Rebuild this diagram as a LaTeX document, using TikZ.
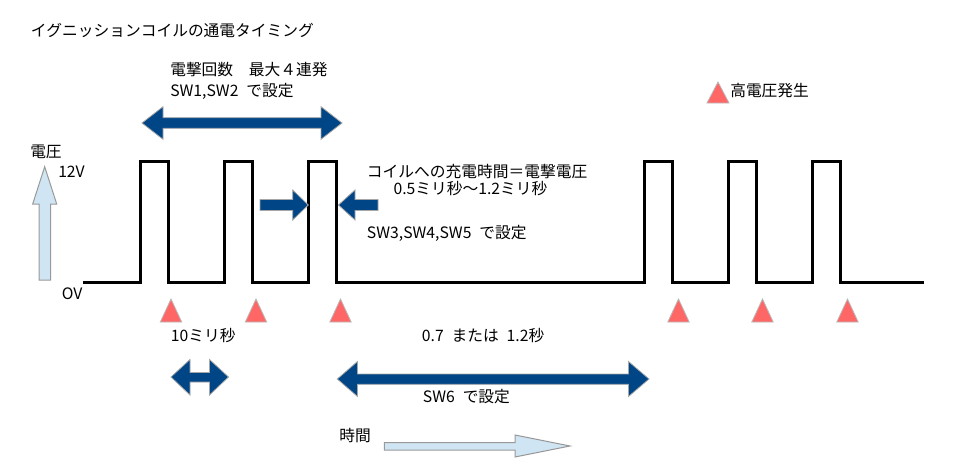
\documentclass[tikz,border=0pt]{standalone}
\usepackage{fontspec}
\setmainfont{Noto Sans CJK JP}
\usepackage{tikz}
\usepackage{xcolor}

\definecolor{arrowblue}{RGB}{0,69,134}
\definecolor{lightblue}{RGB}{207,229,243}
\definecolor{sparkred}{RGB}{255,102,102}

\begin{document}
\begin{tikzpicture}[x=0.75pt,y=-0.75pt,
  lbl/.style={anchor=west,inner sep=0pt,font=\fontsize{11.8pt}{14pt}\selectfont},
  wave/.style={line width=2.25pt},
  blockarrow/.style={fill=arrowblue,draw=gray!70,line width=0.6pt},
  lightarrow/.style={fill=lightblue,draw=gray!80,line width=0.75pt},
  spark/.style={fill=sparkred,draw=gray!55,line width=0.6pt}]
\useasboundingbox (0,0) rectangle (958,475);

% labels
\node[lbl] (title) at (30.7,30) {イグニッションコイルの通電タイミング};
\node[lbl] (count) at (170,70) {電撃回数　最大４連発};
\node[lbl] (swa) at (170,91) {SW1,SW2\hspace{0.5em}で設定};
\node[lbl] (legend) at (730,91) {高電圧発生};
\node[lbl] (volt) at (30,151.7) {電圧};
\node[lbl] (vhigh) at (58,171.7) {12V};
\node[lbl] (vlow) at (61.7,294) {OV};
\node[lbl] (charge) at (366.7,171.7) {コイルへの充電時間＝電撃電圧};
\node[lbl] (range) at (393.3,189) {0.5ミリ秒～1.2ミリ秒};
\node[lbl] (swb) at (366.7,233) {SW3,SW4,SW5\hspace{0.5em}で設定};
\node[lbl] (gap) at (170.7,336) {10ミリ秒};
\node[lbl] (pause) at (421.7,336) {0.7\hspace{0.5em}または\hspace{0.5em}1.2秒};
\node[lbl] (swc) at (422.7,397) {SW6\hspace{0.5em}で設定};
\node[lbl] (time) at (339,436) {時間};

% pulse train
\draw[wave] (83,282) -- (140,282) -- (140,161.5) -- (168,161.5) -- (168,282)
  -- (224,282) -- (224,161.5) -- (252,161.5) -- (252,282)
  -- (308,282) -- (308,161.5) -- (336,161.5) -- (336,282)
  -- (644,282) -- (644,161.5) -- (672,161.5) -- (672,282)
  -- (728,282) -- (728,161.5) -- (756,161.5) -- (756,282)
  -- (812,282) -- (812,161.5) -- (840,161.5) -- (840,282) -- (924,282);

% sparks
\foreach \x in {171,256,340.5,678.5,762.5,847.5}
  \filldraw[spark] (\x-10.7,322) -- (\x,299) -- (\x+10.7,322) -- cycle;
\filldraw[spark] (707,103) -- (718,82) -- (729,103) -- cycle;

% axes
\filldraw[lightarrow] (39,280) -- (39,204) -- (32.7,204) -- (44.7,166.7)
  -- (56.7,204) -- (50.7,204) -- (50.7,280) -- cycle;
\filldraw[lightarrow] (384.3,442.5) -- (515,442.5) -- (515,435) -- (570,446)
  -- (515,457) -- (515,450) -- (384.3,450) -- cycle;

% spans
\filldraw[blockarrow] (142,123) -- (163,106.7) -- (163,117.7) -- (321,117.7)
  -- (321,106.7) -- (342,123) -- (321,139.3) -- (321,128.3) -- (163,128.3)
  -- (163,139.3) -- cycle;
\filldraw[blockarrow] (171,377) -- (190,359.5) -- (190,372.5) -- (209.5,372.5)
  -- (209.5,359.5) -- (228.5,377) -- (209.5,395) -- (209.5,382) -- (190,382)
  -- (190,395) -- cycle;
\filldraw[blockarrow] (337.3,379) -- (357.5,361.5) -- (357.5,374) -- (628.5,374)
  -- (628.5,361.5) -- (649,379) -- (628.5,396.5) -- (628.5,384.3) -- (357.5,384.3)
  -- (357.5,396.5) -- cycle;
\filldraw[blockarrow] (260,199.5) -- (292.7,199.5) -- (292.7,190) -- (308.3,205)
  -- (292.7,220) -- (292.7,210.5) -- (260,210.5) -- cycle;
\filldraw[blockarrow] (378,199.5) -- (355,199.5) -- (355,190) -- (338.5,205)
  -- (355,220) -- (355,210.5) -- (378,210.5) -- cycle;
\end{tikzpicture}
\end{document}
